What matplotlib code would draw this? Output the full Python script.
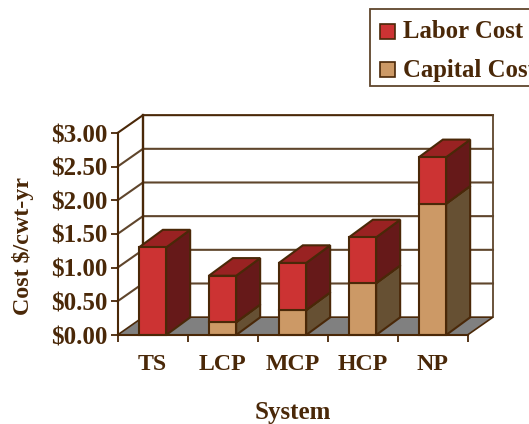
import numpy as np
from matplotlib import pyplot as plt
from matplotlib.patches import Polygon, Rectangle

SYSTEMS = ['TS', 'LCP', 'MCP', 'HCP', 'NP']
CAPITAL_COST = [0.0, 0.19, 0.37, 0.77, 1.95]
LABOR_COST = [1.30, 0.69, 0.70, 0.68, 0.69]
Y_TICKS = [0.0, 0.5, 1.0, 1.5, 2.0, 2.5, 3.0]
Y_LABELS = ['$0.00', '$0.50', '$1.00', '$1.50', '$2.00', '$2.50', '$3.00']

LINE = '#4a2808'
WALL = '#5f452c'
FLOOR = '#808080'
RED = ('#cc3333', '#992222', '#661919')
TAN = ('#cc9966', '#996633', '#665033')
FONT = {'family': 'Liberation Serif', 'fontweight': 'bold', 'color': LINE}

# depth of the fake 3d box, in data units
WALL_DX, WALL_DY = 0.364, 0.265
BAR_DX, BAR_DY = 0.343, 0.262
BAR_WIDTH = 0.39


def poly(ax, pts, color, lw=1.5, edge=LINE, zorder=3):
    ax.add_patch(Polygon(pts, closed=True, fc=color, ec=edge, lw=lw,
                         zorder=zorder, clip_on=False, joinstyle='miter'))


def draw_box(ax):
    n = len(SYSTEMS)
    poly(ax, [(0, 0), (n, 0), (n + WALL_DX, WALL_DY), (WALL_DX, WALL_DY)], FLOOR, lw=1.2, zorder=2)
    for y in Y_TICKS[1:]:
        ax.plot([0, WALL_DX, n + WALL_DX], [y, y + WALL_DY, y + WALL_DY],
                color=LINE if y == 3.0 else WALL, lw=1.5, zorder=1, clip_on=False,
                solid_joinstyle='miter')
    ax.plot([WALL_DX, WALL_DX], [WALL_DY, 3 + WALL_DY], color=LINE, lw=1.7, zorder=1, clip_on=False)
    ax.plot([n + WALL_DX, n + WALL_DX], [WALL_DY, 3 + WALL_DY], color=WALL, lw=1.3, zorder=1, clip_on=False)


def draw_segment(ax, x0, y0, y1, colors):
    x1 = x0 + BAR_WIDTH
    poly(ax, [(x1, y0), (x1 + BAR_DX, y0 + BAR_DY), (x1 + BAR_DX, y1 + BAR_DY), (x1, y1)], colors[2])
    poly(ax, [(x0, y1), (x1, y1), (x1 + BAR_DX, y1 + BAR_DY), (x0 + BAR_DX, y1 + BAR_DY)], colors[1])
    poly(ax, [(x0, y0), (x1, y0), (x1, y1), (x0, y1)], colors[0])


def draw_bars(ax):
    for i in range(len(SYSTEMS)):
        x0 = i + 0.5 - BAR_WIDTH / 2
        cap, lab = CAPITAL_COST[i], LABOR_COST[i]
        if cap > 0:
            draw_segment(ax, x0, 0, cap, TAN)
        draw_segment(ax, x0, cap, cap + lab, RED)


def draw_legend(fig):
    W, H = fig.get_size_inches() * fig.dpi
    fig.add_artist(Rectangle((370 / W, 1 - 86 / H), 200 / W, 77 / H, fc='white', ec=WALL, lw=1.3,
                             transform=fig.transFigure))
    rows = [('Labor Cost', RED[0], 31), ('Capital Cost', TAN[0], 69)]
    for label, color, y in rows:
        fig.add_artist(Rectangle((380 / W, 1 - (y + 7.5) / H), 15 / W, 15 / H, fc=color, ec=LINE, lw=1.2,
                                 transform=fig.transFigure))
        fig.text(403 / W, 1 - (y + 1) / H, label, fontsize=17.8, va='center', ha='left', **FONT)


def main():
    fig = plt.figure(figsize=(5.29, 4.24), dpi=100)
    W, H = 529, 424
    ax = fig.add_axes([117.5 / W, 1 - 335 / H, 350 / W, 202 / H])
    ax.patch.set_alpha(0)
    ax.set_xlim(0, len(SYSTEMS))
    ax.set_ylim(0, 3)

    draw_box(ax)
    draw_bars(ax)

    for s in ['top', 'right']:
        ax.spines[s].set_visible(False)
    for s in ['left', 'bottom']:
        ax.spines[s].set_color(LINE)
        ax.spines[s].set_linewidth(1.5)
        ax.spines[s].set_zorder(5)

    ax.set_yticks(Y_TICKS, [l.replace('$', r'\$') for l in Y_LABELS], fontsize=18, **FONT)
    ax.set_xticks(np.arange(len(SYSTEMS) + 1))
    ax.set_xticklabels([])
    ax.set_xticks(np.arange(len(SYSTEMS)) + 0.5, SYSTEMS, minor=True, fontsize=17.2, **FONT)
    ax.tick_params(axis='y', length=5, width=1.3, color=LINE, pad=2.5)
    ax.tick_params(axis='x', which='major', length=5, width=1.3, color=LINE)
    ax.tick_params(axis='x', which='minor', length=0, pad=14)

    ax.set_xlabel('System', fontsize=18, **FONT)
    ax.xaxis.set_label_coords((293 - 117.5) / 350, -(413 - 335) / 202, transform=ax.transAxes)
    ax.xaxis.label.set_va('center')
    ax.set_ylabel('Cost \\$/cwt-yr', fontsize=17.3, **FONT)
    ax.yaxis.set_label_coords((23 - 117.5) / 350, (335 - 246) / 202, transform=ax.transAxes)
    ax.yaxis.label.set_va('center')

    draw_legend(fig)
    fig.savefig('out.png', dpi=100)


if __name__ == "__main__":
    main()
